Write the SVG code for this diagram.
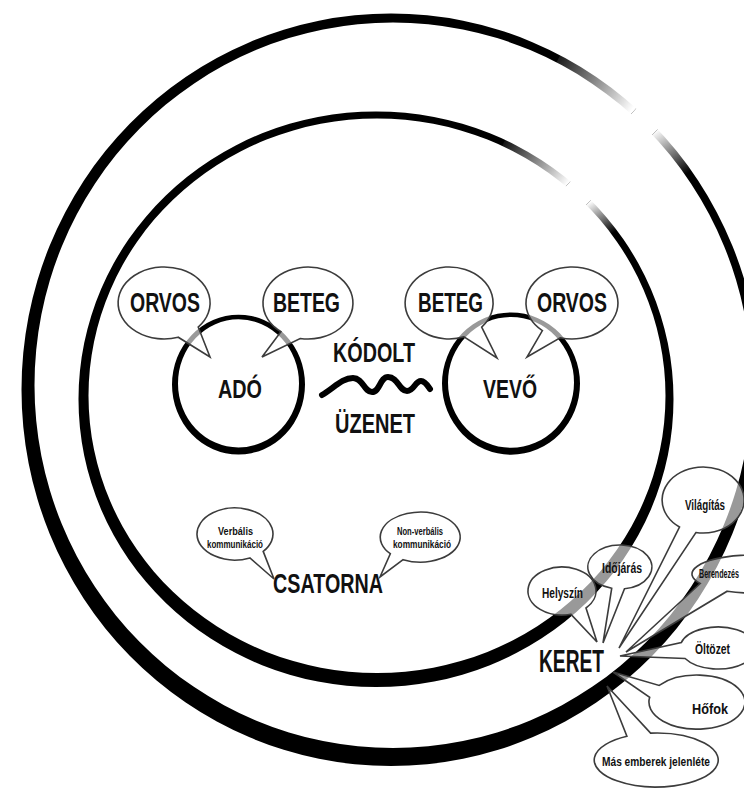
<svg xmlns="http://www.w3.org/2000/svg" width="744" height="789" viewBox="0 0 744 789">
<style>
.t{font-family:"Liberation Sans",Arial,sans-serif;font-weight:bold;fill:#111}
.big{font-size:27px}
.sm{font-size:11.5px}
.md{font-size:14px}
.ring{fill:#000;fill-rule:evenodd}
.bub{fill:#fff;fill-opacity:0.6;stroke:#3c3c3c;stroke-width:1.6;stroke-linejoin:miter}
</style>
<defs>
<linearGradient id="gOutA" gradientUnits="userSpaceOnUse" x1="545" y1="60" x2="630" y2="113"><stop offset="0" stop-color="#fff"/><stop offset="1" stop-color="#000"/></linearGradient>
<linearGradient id="gOutB" gradientUnits="userSpaceOnUse" x1="652" y1="133" x2="680" y2="178"><stop offset="0" stop-color="#000"/><stop offset="1" stop-color="#fff"/></linearGradient>
<linearGradient id="gInA" gradientUnits="userSpaceOnUse" x1="500" y1="138" x2="567" y2="185"><stop offset="0" stop-color="#fff"/><stop offset="1" stop-color="#000"/></linearGradient>
<linearGradient id="gInB" gradientUnits="userSpaceOnUse" x1="588" y1="203" x2="608" y2="236"><stop offset="0" stop-color="#000"/><stop offset="1" stop-color="#fff"/></linearGradient>
<mask id="mOuter" maskUnits="userSpaceOnUse" x="0" y="0" width="744" height="789">
<rect x="0" y="0" width="744" height="789" fill="#fff"/>
<polygon points="390,388 640,-101 753,-24.5" fill="url(#gOutA)"/>
<polygon points="390,388 753,-24.5 786,5.5" fill="#000"/>
<polygon points="390,388 786,5.5 843,91" fill="url(#gOutB)"/>
</mask>
<mask id="mInner" maskUnits="userSpaceOnUse" x="0" y="0" width="744" height="789">
<rect x="0" y="0" width="744" height="789" fill="#fff"/>
<polygon points="376,397.5 569.5,11.25 662.5,78.75" fill="url(#gInA)"/>
<polygon points="376,397.5 662.5,78.75 694,105.75" fill="#000"/>
<polygon points="376,397.5 694,105.75 734.5,168.75" fill="url(#gInB)"/>
</mask>
</defs>
<rect x="0" y="0" width="744" height="789" fill="#fff"/>

<g id="outer-ring">
<path class="ring" mask="url(#mOuter)" d="M21.5,389.75 a369.5,376.25 0 1 0 739,0 a369.5,376.25 0 1 0 -739,0 Z M34.5,385.25 a358.5,362.75 0 1 0 717,0 a358.5,362.75 0 1 0 -717,0 Z"/>
</g>
<g id="inner-ring">
<path class="ring" mask="url(#mInner)" d="M78.5,399.25 a297.5,287.75 0 1 0 595,0 a297.5,287.75 0 1 0 -595,0 Z M88.5,395.75 a288.5,277.25 0 1 0 577,0 a288.5,277.25 0 1 0 -577,0 Z"/>
</g>

<g id="ado">
<path class="ring" d="M172,384.6 a66.5,69.9 0 1 0 133,0 a66.5,69.9 0 1 0 -133,0 Z M178,383.4 a60.5,64.1 0 1 0 121,0 a60.5,64.1 0 1 0 -121,0 Z"/>
<text class="t" x="218" y="398" font-size="26" textLength="44" lengthAdjust="spacingAndGlyphs">ADÓ</text>
</g>
<g id="vevo">
<path class="ring" d="M442,383.6 a69,71.1 0 1 0 138,0 a69,71.1 0 1 0 -138,0 Z M448,382.4 a63,65.4 0 1 0 126,0 a63,65.4 0 1 0 -126,0 Z"/>
<text class="t" x="483" y="398" font-size="26" textLength="54" lengthAdjust="spacingAndGlyphs">VEVŐ</text>
</g>

<g id="uzenet">
<text class="t big" x="333" y="362" textLength="82" lengthAdjust="spacingAndGlyphs">KÓDOLT</text>
<path d="M322,395 C334,388 342,378 353,378 C363,378 364,392 372,392 C380,392 380,377 388,377 C398,377 399,391 407,391 C414,391 415,381 421,381 C425,381 428,386 430,389" fill="none" stroke="#000" stroke-width="6" stroke-linecap="round" stroke-linejoin="round"/>
<text class="t big" x="335" y="433" textLength="80" lengthAdjust="spacingAndGlyphs">ÜZENET</text>
</g>

<g id="bubble-orvos-ado">
<path class="bub" d="M178.2,337.2 A46,36 0 1 1 198.2,327.1 L210,357 Z"/>
<text class="t big" x="130" y="312" textLength="70" lengthAdjust="spacingAndGlyphs">ORVOS</text>
</g>
<g id="bubble-beteg-ado">
<path class="bub" d="M280.9,331.8 A45,36 0 1 1 300.2,338.5 L262,357 Z"/>
<text class="t big" x="273" y="312" textLength="67" lengthAdjust="spacingAndGlyphs">BETEG</text>
</g>
<g id="bubble-beteg-vevo">
<path class="bub" d="M464,336.8 A44,36 0 1 1 481.7,327.1 L497,358 Z"/>
<text class="t big" x="418" y="312" textLength="65" lengthAdjust="spacingAndGlyphs">BETEG</text>
</g>
<g id="bubble-orvos-vevo">
<path class="bub" d="M542.4,330.6 A46,36 0 1 1 560.1,337.8 L527,357 Z"/>
<text class="t big" x="537" y="312" textLength="70" lengthAdjust="spacingAndGlyphs">ORVOS</text>
</g>

<g id="csatorna">
<text class="t big" x="273" y="593" textLength="110" lengthAdjust="spacingAndGlyphs">CSATORNA</text>
</g>
<g id="bubble-verbalis">
<path class="bub" d="M249.9,557.9 A38,26 0 1 1 263.2,551.4 L274,579 Z"/>
<text class="t sm" x="218" y="535" textLength="35" lengthAdjust="spacingAndGlyphs">Verbális</text>
<text class="t sm" x="207" y="548" textLength="56" lengthAdjust="spacingAndGlyphs">kommunikáció</text>
</g>
<g id="bubble-nonverbalis">
<path class="bub" d="M390.3,553.7 A40,25 0 1 1 403.1,559.7 L380,577 Z"/>
<text class="t sm" x="397" y="535" textLength="46" lengthAdjust="spacingAndGlyphs">Non-verbális</text>
<text class="t sm" x="393" y="548" textLength="58" lengthAdjust="spacingAndGlyphs">kommunikáció</text>
</g>

<g id="keret">
<text class="t" x="539" y="672" font-size="31" textLength="65" lengthAdjust="spacingAndGlyphs">KERET</text>
</g>
<g id="bubble-helyszin">
<path class="bub" d="M570.8,614.2 A34,24 0 1 1 586,608 L597,642 Z"/>
<text class="t md" x="542" y="598" textLength="41" lengthAdjust="spacingAndGlyphs">Helyszín</text>
</g>
<g id="bubble-idojaras">
<path class="bub" d="M611.7,588.3 A32,22 0 1 1 624.5,588.8 L603,643 Z"/>
<text class="t md" x="602" y="573" textLength="40" lengthAdjust="spacingAndGlyphs">Időjárás</text>
</g>
<g id="bubble-vilagitas">
<path class="bub" d="M679.5,527 A41,33 0 1 1 695.9,532.5 L619,648 Z"/>
<text class="t md" x="685" y="510" textLength="40" lengthAdjust="spacingAndGlyphs">Világítás</text>
</g>
<g id="bubble-berendezes">
<path class="bub" d="M700.2,583.5 A61,19 0 1 1 727.2,591.2 L626,652 Z"/>
<text class="t" x="739" y="578" font-size="12" text-anchor="end" textLength="40" lengthAdjust="spacingAndGlyphs">Berendezés</text>
</g>
<g id="bubble-oltozet">
<path class="bub" d="M681.3,642.6 A38,21 0 1 1 685.1,658.5 L620,656 Z"/>
<text class="t md" x="695" y="654" textLength="35" lengthAdjust="spacingAndGlyphs">Öltözet</text>
</g>
<g id="bubble-hofok">
<path class="bub" d="M659.2,685.4 A48,27 0 1 1 649.7,697.3 L613,672 Z"/>
<text class="t md" x="692" y="714" textLength="36" lengthAdjust="spacingAndGlyphs">Hőfok</text>
</g>
<g id="bubble-mas-emberek">
<path class="bub" d="M650.6,733.1 A62,27 0 1 1 626.9,736.2 L607,686 Z"/>
<text class="t" x="602" y="766" font-size="13.5" textLength="108" lengthAdjust="spacingAndGlyphs">Más emberek jelenléte</text>
</g>
</svg>
